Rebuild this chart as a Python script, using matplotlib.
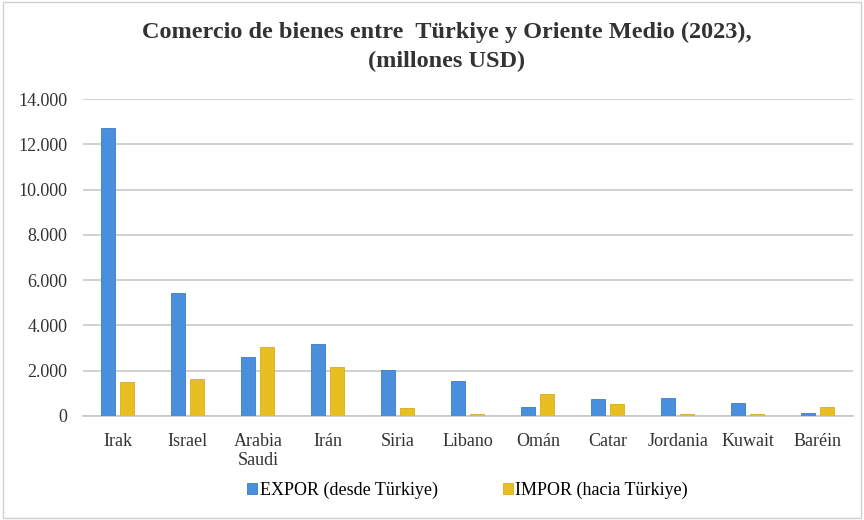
import numpy as np
import matplotlib
matplotlib.use("Agg")
import matplotlib.pyplot as plt
from matplotlib.ticker import FuncFormatter
from matplotlib.patches import Rectangle

paises = ['Irak', 'Israel', 'Arabia\nSaudi', 'Irán', 'Siria', 'Libano', 'Omán',
          'Catar', 'Jordania', 'Kuwait', 'Baréin']
expor = [12720, 5440, 2620, 3190, 2030, 1560, 390, 770, 810, 580, 150]
impor = [1500, 1620, 3030, 2150, 350, 100, 990, 530, 110, 100, 390]

blue = '#4A8FDC'
gold = '#E8BF22'

plt.rcParams['font.family'] = ['Liberation Serif', 'DejaVu Serif']

fig = plt.figure(figsize=(8.64, 5.2), dpi=100)
ax = fig.add_axes([0.096, 0.2, 0.891, 0.6096])

x = np.arange(len(paises))
w = 0.2
ax.bar(x - 0.135, expor, w, color=blue, edgecolor='#3B7DC8', linewidth=0.6,
       label='EXPOR (desde Türkiye)', zorder=3)
ax.bar(x + 0.135, impor, w, color=gold, edgecolor='#D9AE14', linewidth=0.6,
       label='IMPOR (hacia Türkiye)', zorder=3)

ax.set_xlim(-0.5, len(paises) - 0.5)
ax.set_ylim(0, 14000)
ax.set_yticks(range(0, 14001, 2000))
ax.yaxis.set_major_formatter(FuncFormatter(lambda v, p: f'{int(v):,}'.replace(',', '.')))
ax.grid(axis='y', color='#C8C8C8', linewidth=1.2, zorder=0)
for s in ['top', 'right', 'left']:
    ax.spines[s].set_visible(False)
ax.spines['bottom'].set_color('#C8C8C8')
ax.spines['bottom'].set_linewidth(1.2)
ax.tick_params(axis='both', length=0, labelsize=13, colors='#333333')
ax.tick_params(axis='y', pad=11)
ax.tick_params(axis='x', pad=12)
ax.set_xticks(x)
ax.set_xticklabels(paises, linespacing=1.2)

fig.text(0.517, 0.937, 'Comercio de bienes entre  Türkiye y Oriente Medio (2023),',
         ha='center', va='center', fontsize=17.5, fontweight='bold', color='#333333')
fig.text(0.517, 0.882, '(millones USD)', ha='center', va='center',
         fontsize=17.5, fontweight='bold', color='#333333')

fig.legend(loc='center', bbox_to_anchor=(0.541, 0.057), ncol=2, frameon=False,
           fontsize=13, handlelength=0.55, handleheight=0.55, handletextpad=0.15,
           columnspacing=3.6)

fig.patches.append(Rectangle((0.003, 0.003), 0.994, 0.994, transform=fig.transFigure,
                             fill=False, edgecolor='#D0D0D0', linewidth=1))

fig.savefig('out.png', dpi=100)
